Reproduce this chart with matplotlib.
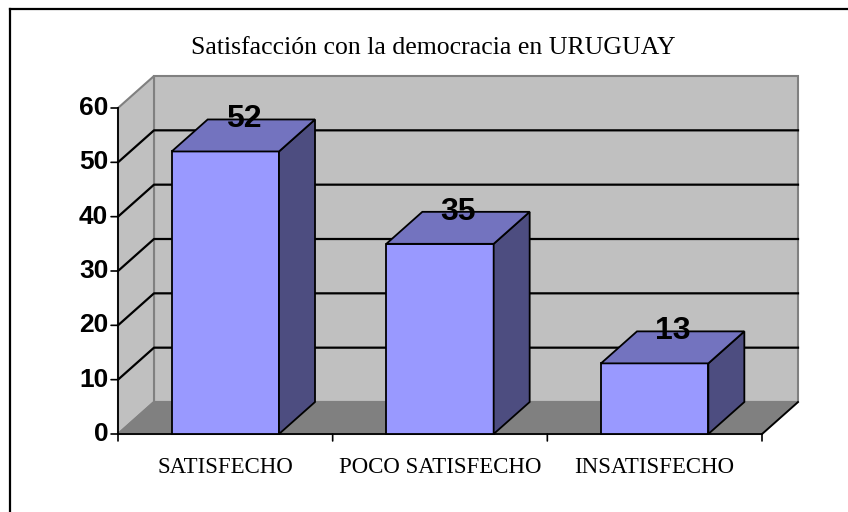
import matplotlib
matplotlib.use("Agg")
import matplotlib.pyplot as plt
from matplotlib.patches import Polygon
from matplotlib.lines import Line2D

categories = ["SATISFECHO", "POCO SATISFECHO", "INSATISFECHO"]
values = [52, 35, 13]
yticks = [0, 10, 20, 30, 40, 50, 60]
title = "Satisfacción con la democracia en URUGUAY"

W, H = 848, 512
fig = plt.figure(figsize=(W / 100, H / 100), dpi=100)
fig.patch.set_facecolor("white")

# front plane of the 3d box in pixels
x0, x1, yb, yt = 118, 762, 434, 108
ax = fig.add_axes([x0 / W, 1 - yb / H, (x1 - x0) / W, (yb - yt) / H])
ax.set_xlim(0, len(categories))
ax.set_ylim(0, 60)
ax.axis("off")

# depth offset (data units)
dx = 36 / ((x1 - x0) / len(categories))
dy = 32 / ((yb - yt) / 60)

n = len(categories)
ymax = yticks[-1]
wall = "#c0c0c0"
edge = "#808080"
sans = ["Liberation Sans Narrow", "Liberation Sans", "DejaVu Sans"]

# back wall, left wall, floor
ax.add_patch(Polygon([(dx, dy), (n + dx, dy), (n + dx, ymax + dy), (dx, ymax + dy)],
                     closed=True, fc=wall, ec=edge, lw=1.5, zorder=1, clip_on=False))
ax.add_patch(Polygon([(0, 0), (dx, dy), (dx, ymax + dy), (0, ymax)],
                     closed=True, fc=wall, ec=edge, lw=1.5, zorder=1, clip_on=False))
ax.add_patch(Polygon([(0, 0), (n, 0), (n + dx, dy), (dx, dy)],
                     closed=True, fc="#808080", ec=edge, lw=1.5, zorder=1, clip_on=False))
ax.plot([n, n + dx], [0, dy], color="black", lw=1.3, zorder=2, clip_on=False)

# gridlines
for t in yticks[1:-1]:
    ax.plot([0, dx, n + dx], [t, t + dy, t + dy], color="black", lw=1.6, zorder=2, clip_on=False)

# axes lines and ticks
ax.plot([0, 0], [0, ymax], color="black", lw=1.3, zorder=5, clip_on=False)
ax.plot([0, n], [0, 0], color="black", lw=1.3, zorder=5, clip_on=False)
for t in yticks:
    ax.annotate("", xy=(0, t), xytext=(-5, 0), textcoords="offset points",
                arrowprops=dict(arrowstyle="-", color="black", lw=1.2, shrinkA=0, shrinkB=0))
    ax.annotate(str(t), xy=(0, t), xytext=(-7, 0), textcoords="offset points",
                ha="right", va="center", fontsize=19, fontweight="bold", family=sans)
for i in range(n + 1):
    ax.annotate("", xy=(i, 0), xytext=(0, -5), textcoords="offset points",
                arrowprops=dict(arrowstyle="-", color="black", lw=1.2, shrinkA=0, shrinkB=0))

# bars
bw = 0.5
front = "#9999ff"
top = "#7373bf"
side = "#4d4d80"
for i, v in enumerate(values):
    a = i + 0.5 - bw / 2
    b = i + 0.5 + bw / 2
    ax.add_patch(Polygon([(a, 0), (b, 0), (b, v), (a, v)], closed=True,
                         fc=front, ec="black", lw=1.3, zorder=6, clip_on=False))
    ax.add_patch(Polygon([(b, 0), (b + dx, dy), (b + dx, v + dy), (b, v)], closed=True,
                         fc=side, ec="black", lw=1.3, zorder=6, clip_on=False))
    ax.add_patch(Polygon([(a, v), (a + dx, v + dy), (b + dx, v + dy), (b, v)], closed=True,
                         fc=top, ec="black", lw=1.3, zorder=6, clip_on=False))
    ax.text(i + 0.5 + dx / 2, v + dy, str(v), ha="center", va="center",
            fontsize=23, fontweight="bold", zorder=7, family=sans)
    ax.annotate(categories[i], xy=(i + 0.5, 0), xytext=(0, -24), textcoords="offset points",
                ha="center", va="center", fontsize=16.5, family="Liberation Serif")

fig.text(433 / W, 1 - 48 / H, title, ha="center", va="center",
         fontsize=18.5, family="Liberation Serif")

# chart border
fig.add_artist(Line2D([10 / W, 10 / W], [0, 1 - 9 / H], color="black", lw=1.6))
fig.add_artist(Line2D([10 / W, 1], [1 - 9 / H, 1 - 9 / H], color="black", lw=1.6))

fig.savefig("out.png", dpi=100)
